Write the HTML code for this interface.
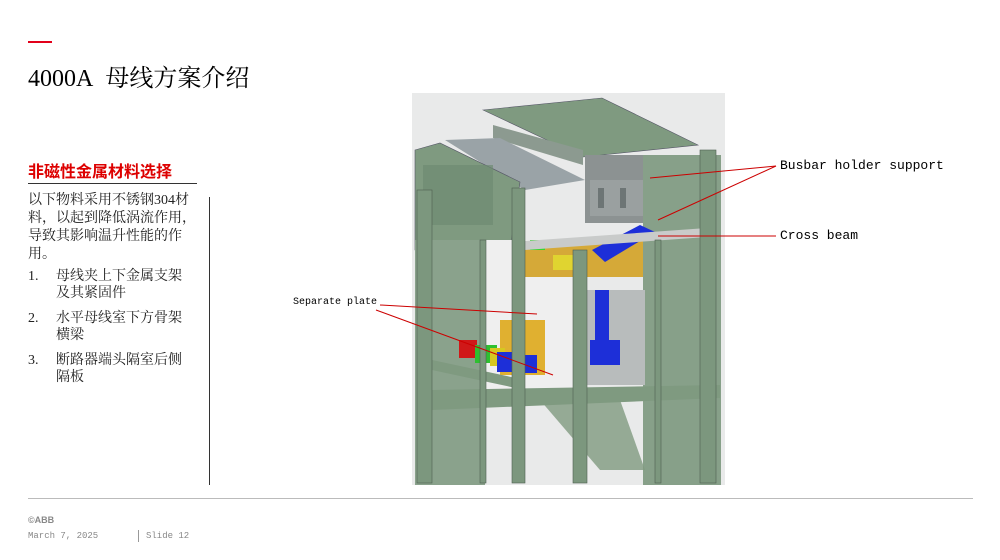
<!DOCTYPE html>
<html><head><meta charset="utf-8"><style>
body{margin:0;width:1000px;height:560px;background:#fff;position:relative;overflow:hidden;font-family:"Liberation Serif","Noto Serif CJK SC",serif;}
.a{position:absolute;white-space:nowrap;}
.cj{font-family:"Liberation Serif","Noto Serif CJK SC",serif;}
.mono{font-family:"Liberation Mono","Noto Sans CJK SC",monospace;}
</style></head><body>
<div class="a" style="left:28px;top:41px;width:24px;height:2px;background:#e2001a"></div>
<div class="a" style="left:28px;top:58px;font-size:24px;color:#000">4000A&nbsp; 母线方案介绍</div>
<div class="a" style="left:28px;top:158px;font-size:16px;font-weight:bold;color:#d00;font-family:'Liberation Sans','Noto Sans CJK SC',sans-serif">非磁性金属材料选择</div>
<div class="a" style="left:28px;top:183px;width:169px;height:1px;background:#333"></div>
<div class="a" style="left:209px;top:197px;width:1px;height:288px;background:#333"></div>
<div class="a cj" style="left:28px;top:192px;font-size:14px;line-height:18px;color:#222;white-space:normal;width:172px">以下物料采用不锈钢304材料，以起到降低涡流作用，导致其影响温升性能的作用。</div>
<div class="a cj" style="left:28px;top:268px;font-size:14px;line-height:17px;color:#222">1.</div>
<div class="a cj" style="left:56px;top:268px;font-size:14px;line-height:17px;color:#222">母线夹上下金属支架<br>及其紧固件</div>
<div class="a cj" style="left:28px;top:310px;font-size:14px;line-height:17px;color:#222">2.</div>
<div class="a cj" style="left:56px;top:310px;font-size:14px;line-height:17px;color:#222">水平母线室下方骨架<br>横梁</div>
<div class="a cj" style="left:28px;top:352px;font-size:14px;line-height:17px;color:#222">3.</div>
<div class="a cj" style="left:56px;top:352px;font-size:14px;line-height:17px;color:#222">断路器端头隔室后侧<br>隔板</div>

<svg class="a" style="left:0;top:0" width="1000" height="560">
<rect x="412" y="93" width="313" height="392" fill="#e9eaea"/>
<polygon points="483,110 602,98 698,145 583,157" fill="#7f9a80" stroke="#556" stroke-width="0.6"/>
<polygon points="493,125 583,150 583,165 493,138" fill="#8c9a90"/>
<polygon points="445,140 500,138 585,180 525,190" fill="#9aa3a7"/>
<rect x="585" y="155" width="103" height="68" fill="#8c9292"/>
<rect x="590" y="180" width="95" height="36" fill="#9aa0a0"/>
<g fill="#6d7575"><rect x="598" y="188" width="6" height="20"/><rect x="620" y="188" width="6" height="20"/><rect x="645" y="188" width="6" height="20"/><rect x="669" y="188" width="6" height="20"/></g>
<polygon points="415,150 440,143 520,182 510,250 415,250" fill="#7f9a80" stroke="#556" stroke-width="0.6"/>
<rect x="423" y="165" width="70" height="60" fill="#6e8a72" opacity="0.7"/>
<rect x="415" y="240" width="70" height="245" fill="#8aa28c"/>
<rect x="483" y="240" width="90" height="150" fill="#efefef"/>
<polygon points="525,247 643,240 643,277 525,277" fill="#d5a938"/>
<rect x="643" y="155" width="78" height="330" fill="#87a089"/>
<rect x="585" y="290" width="60" height="95" fill="#b8bcbc"/>
<rect x="595" y="290" width="14" height="70" fill="#1d2fd8"/>
<rect x="590" y="340" width="30" height="25" fill="#1d2fd8"/>
<polygon points="592,250 640,225 655,232 605,262" fill="#1d2fd8"/>
<rect x="530" y="240" width="15" height="10" fill="#3ad430"/>
<rect x="553" y="255" width="20" height="15" fill="#e0d430"/>
<rect x="500" y="320" width="45" height="55" fill="#e0b030"/>
<rect x="459" y="340" width="18" height="18" fill="#d01818"/>
<rect x="475" y="345" width="22" height="18" fill="#2ec030"/>
<rect x="490" y="348" width="15" height="18" fill="#d6c820"/>
<rect x="497" y="352" width="20" height="20" fill="#1d2fd8"/>
<rect x="525" y="355" width="12" height="18" fill="#1d2fd8"/>
<polygon points="525,241 707,228 707,237 525,250" fill="#c9cbca"/>
<polygon points="432,390 720,385 720,398 432,410" fill="#7f9a80"/>
<polygon points="432,360 525,380 525,390 432,370" fill="#7f9a80"/>
<polygon points="540,400 620,400 645,470 600,470" fill="#7f9a80" opacity="0.8"/>
<g fill="#7c977e" stroke="#4f5f50" stroke-width="0.6">
<rect x="417" y="190" width="15" height="293"/>
<rect x="480" y="240" width="6" height="243"/>
<rect x="512" y="188" width="13" height="295"/>
<rect x="573" y="250" width="14" height="233"/>
<rect x="700" y="150" width="16" height="333"/>
<rect x="655" y="240" width="6" height="243"/>
</g>
<g fill="none" stroke="#c00" stroke-width="1">
<line x1="776" y1="166" x2="650" y2="178"/><line x1="776" y1="166" x2="658" y2="220"/>
<line x1="776" y1="236" x2="658" y2="236"/>
<line x1="380" y1="305" x2="537" y2="314"/><line x1="376" y1="310" x2="553" y2="375"/>
</g>
<line x1="28" y1="498.5" x2="973" y2="498.5" stroke="#bbb" stroke-width="1"/>
<line x1="138.5" y1="530" x2="138.5" y2="542" stroke="#999"/>
</svg>
<div class="a mono" style="left:780px;top:158px;font-size:13px;color:#000">Busbar holder support</div>
<div class="a mono" style="left:780px;top:228px;font-size:13px;color:#000">Cross beam</div>
<div class="a mono" style="left:293px;top:297px;font-size:10px;color:#000">Separate plate</div>
<div class="a" style="left:28px;top:515px;font-size:9px;color:#888;font-family:'Liberation Sans',sans-serif;font-weight:bold">©ABB</div>
<div class="a mono" style="left:28px;top:531px;font-size:9px;color:#888">March 7, 2025</div>
<div class="a mono" style="left:146px;top:531px;font-size:9px;color:#888">Slide 12</div>
</body></html>
